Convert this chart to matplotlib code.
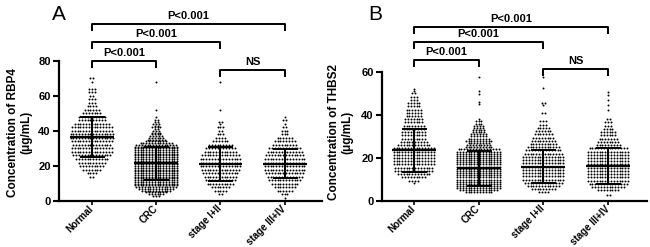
import numpy as np
import matplotlib
matplotlib.use('Agg')
import matplotlib.pyplot as plt

plt.rcParams['font.family'] = ['Liberation Sans', 'DejaVu Sans']
plt.rcParams['font.weight'] = 'bold'

groups = ['Normal', 'CRC', 'stage I+II', 'stage III+IV']

# ---- panel A (RBP4): dot rows, value -> number of dots in the row
a_normal_y = [70, 68, 64, 62, 60, 58, 56, 54, 52, 50, 48, 46, 44, 42, 40, 38, 36, 34, 32, 30, 28, 26, 24, 22, 20, 18, 16, 14]
a_normal_n = [2, 1, 3, 3, 2, 3, 3, 4, 6, 7, 10, 10, 13, 15, 15, 16, 16, 15, 14, 15, 15, 14, 12, 10, 9, 7, 4, 2]

a_crc_y = [68, 52, 48, 46, 45, 44, 43, 42, 41, 40, 39, 38, 37, 36, 35, 34, 33, 32, 31, 30, 29, 28, 27, 26, 25, 24, 23, 22,
           21, 20, 19, 18, 17, 16, 15, 14, 13, 12, 11, 10, 9, 8, 7, 6, 5, 4, 3]
a_crc_n = [1, 1, 1, 2, 2, 3, 2, 4, 2, 3, 4, 4, 5, 6, 7, 8, 12, 15, 16, 16, 16, 16, 16, 16, 16, 16, 16, 16,
           16, 16, 16, 16, 16, 16, 16, 16, 16, 16, 16, 16, 16, 15, 13, 11, 8, 6, 3]

a_s12_y = [68, 52, 45, 44, 42, 40, 38, 36, 34, 32, 30, 28, 26, 24, 22, 20, 18, 16, 14, 12, 10, 8, 6, 4]
a_s12_n = [1, 1, 2, 1, 3, 2, 3, 4, 6, 9, 11, 12, 14, 15, 15, 15, 14, 13, 12, 11, 10, 7, 5, 2]

a_s34_y = [48, 46, 44, 42, 40, 38, 36, 34, 32, 30, 28, 26, 24, 22, 20, 18, 16, 14, 12, 10, 8, 6, 4, 2]
a_s34_n = [1, 2, 1, 2, 3, 3, 6, 8, 9, 12, 13, 14, 15, 15, 15, 15, 14, 13, 12, 10, 8, 6, 3, 1]

a_mean = [36.5, 21.5, 21.4, 21.4]
a_sd = [11.4, 9.5, 9.7, 8.3]

# ---- panel B (THBS2)
b_normal_y = [52, 51, 50, 48.5, 47, 45.5, 44, 42.5, 41, 39.5, 38, 36.5, 35, 33.5, 32, 30.5, 29, 27.5, 26, 24.5, 23, 21.5,
              20, 18.5, 17, 15.5, 14, 12.5, 11, 9.5, 8.5]
b_normal_n = [1, 1, 2, 3, 3, 5, 5, 6, 6, 6, 7, 7, 8, 8, 9, 9, 9, 10, 12, 15, 15, 15,
              15, 15, 15, 14, 14, 12, 9, 4, 1]

b_crc_y = [57.8, 51, 49.5, 46, 45, 38, 37, 36, 35, 34, 33, 32, 31, 30, 29, 28, 27, 26, 25, 24, 23, 22, 21, 20, 19, 18, 17,
           16, 15, 14, 13, 12, 11, 10, 9, 8, 7, 6, 5, 4]
b_crc_n = [1, 1, 1, 1, 1, 1, 3, 3, 4, 4, 5, 5, 6, 6, 8, 10, 8, 9, 10, 15, 16, 16, 16, 16, 16, 16, 16,
           16, 16, 16, 16, 16, 16, 16, 16, 16, 16, 16, 14, 10]

b_s12_y = [57.8, 52.7, 45.4, 44.5, 40.8, 37, 35.5, 34, 32.5, 31, 29.5, 28, 26.5, 25, 23.5, 22, 20.5, 19, 17.5, 16, 14.5,
           13, 11.5, 10, 8.5, 7, 5.5, 4]
b_s12_n = [1, 1, 2, 1, 2, 3, 3, 5, 6, 7, 8, 9, 10, 12, 13, 14, 15, 15, 15, 15, 15,
           15, 15, 15, 14, 12, 9, 4]

b_s34_y = [50.8, 49.3, 47, 44.6, 42.3, 38, 36.5, 35, 33.5, 32, 30.5, 29, 27.5, 26, 24.5, 23, 21.5, 20, 18.5, 17, 15.5,
           14, 12.5, 11, 9.5, 8, 6.5, 5, 3]
b_s34_n = [1, 1, 1, 1, 1, 2, 3, 3, 4, 6, 6, 7, 8, 9, 14, 15, 15, 15, 15, 15, 15,
           15, 15, 15, 15, 14, 12, 8, 2]

b_mean = [23.5, 15.2, 16.0, 16.3]
b_sd = [10.0, 8.0, 7.8, 8.2]

# brackets: (group i, group j, height, text)
a_brackets = [(0, 1, 80, 'P<0.001'), (0, 2, 90.9, 'P<0.001'), (0, 3, 101.1, 'P<0.001'), (2, 3, 74.9, 'NS')]
b_brackets = [(0, 1, 65.6, 'P<0.001'), (0, 2, 74, 'P<0.001'), (0, 3, 80.9, 'P<0.001'), (2, 3, 61.4, 'NS')]


def swarm(ax, x0, ys, ns, dx=0.044):
    xs, yy = [], []
    for y, n in zip(ys, ns):
        offs = (np.arange(n) - (n - 1) / 2) * dx
        xs.extend(x0 + offs)
        yy.extend([y] * n)
    ax.scatter(xs, yy, s=2.0, c='k', linewidths=0, zorder=2)


def panel(ax, data, means, sds, brackets, ymax, ytop, yticks, drop, label, xlim, labx):
    for i, (ys, ns) in enumerate(data):
        swarm(ax, i, ys, ns)
        ax.hlines(means[i], i - 0.34, i + 0.34, colors='k', lw=1.6, zorder=3)
        ax.errorbar(i, means[i], yerr=sds[i], fmt='none', ecolor='k', elinewidth=1.4,
                    capsize=9, capthick=1.4, zorder=3)
    for i, j, h, txt in brackets:
        ax.plot([i, i, j, j], [h - drop, h, h, h - drop], color='k', lw=1.4, clip_on=False)
        ax.text((i + j) / 2, h + drop * 0.45, txt, ha='center', va='bottom', fontsize=8, fontweight='bold')
    ax.set_xlim(xlim)
    ax.set_ylim(0, ytop)
    ax.set_yticks(yticks)
    ax.set_xticks(range(4))
    ax.set_xticklabels(groups, rotation=45, ha='right', va='center', rotation_mode='anchor', fontsize=7)
    ax.tick_params(axis='y', labelsize=8, width=1.5, length=4, pad=2)
    ax.tick_params(axis='x', width=1.2, length=3, pad=1.5)
    for s in ['top', 'right']:
        ax.spines[s].set_visible(False)
    for s in ['left', 'bottom']:
        ax.spines[s].set_linewidth(1.6)
    ax.spines['left'].set_bounds(0, ymax)
    ax.set_ylabel(label, fontsize=8.5, fontweight='bold', multialignment='center', linespacing=1.1)
    ax.yaxis.set_label_coords(labx, 0.36)


fig = plt.figure(figsize=(6.5, 2.47), dpi=100)
axA = fig.add_axes([0.0908, 0.186, 0.4045, 0.774])
axB = fig.add_axes([0.5877, 0.186, 0.4077, 0.774])

panel(axA, [(a_normal_y, a_normal_n), (a_crc_y, a_crc_n), (a_s12_y, a_s12_n), (a_s34_y, a_s34_n)],
      a_mean, a_sd, a_brackets, 80, 109.1, [0, 20, 40, 60, 80], 3.4,
      'Concentration of RBP4\n(\u03bcg/mL)', (-0.51, 3.58), -0.103)
panel(axB, [(b_normal_y, b_normal_n), (b_crc_y, b_crc_n), (b_s12_y, b_s12_n), (b_s34_y, b_s34_n)],
      b_mean, b_sd, b_brackets, 60, 88.8, [0, 20, 40, 60], 2.8,
      'Concentration of THBS2\n(\u03bcg/mL)', (-0.49, 3.60), -0.109)

fig.text(59 / 650, 1 - 14.5 / 247, 'A', fontsize=15, fontweight='normal', ha='center', va='center')
fig.text(375 / 650, 1 - 14.5 / 247, 'B', fontsize=15, fontweight='normal', ha='center', va='center')

fig.savefig('out.png', dpi=100)
